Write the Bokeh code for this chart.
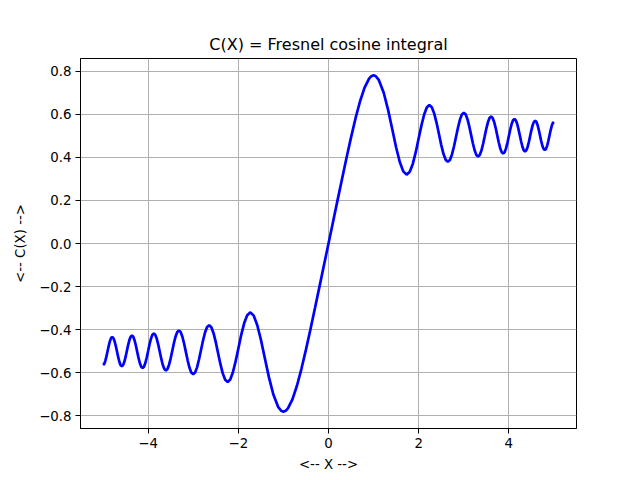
import numpy as np
from bokeh.plotting import figure
from bokeh.models import Range1d, FixedTicker, ColumnDataSource
from bokeh.embed import file_html
from bokeh.resources import INLINE

# Fresnel cosine integral C(x), sampled for x >= 0 (curve is odd: C(-x) = -C(x))
x_pos = [0.0, 0.1, 0.2, 0.3, 0.4, 0.5, 0.6, 0.7, 0.8, 0.9, 0.95, 1.0, 1.05,
         1.1180, 1.2247, 1.3229, 1.4142, 1.5, 1.5811, 1.6583, 1.7321, 1.8028, 1.8708, 1.9365, 2.0,
         2.0616, 2.1213, 2.1795, 2.2361, 2.2913, 2.3452, 2.3979, 2.4495, 2.5, 2.5495,
         2.5981, 2.6458, 2.6926, 2.7386, 2.7839, 2.8284, 2.8723, 2.9155, 2.9580, 3.0,
         3.0414, 3.0822, 3.1225, 3.1623, 3.2016, 3.2404, 3.2787, 3.3166, 3.3541, 3.3912,
         3.4278, 3.4641, 3.5, 3.5355, 3.5707, 3.6056, 3.6401, 3.6742, 3.7081, 3.7417,
         3.7749, 3.8079, 3.8406, 3.8730, 3.9051, 3.9370, 3.9686, 4.0,
         4.0311, 4.0620, 4.0927, 4.1231, 4.1533, 4.1833, 4.2131, 4.2426, 4.2720, 4.3012,
         4.3301, 4.3589, 4.3875, 4.4159, 4.4441, 4.4721, 4.5, 4.5277, 4.5552, 4.5826,
         4.6098, 4.6368, 4.6637, 4.6904, 4.7170, 4.7434, 4.7697, 4.7958, 4.8218, 4.8477,
         4.8734, 4.8990, 4.9244, 4.9497, 4.9749, 5.0]
c_pos = [0.0, 0.1000, 0.1999, 0.2994, 0.3975, 0.4923, 0.5811, 0.6597, 0.7228, 0.7648, 0.7760, 0.7799, 0.7759,
         0.7574, 0.6993, 0.6187, 0.5297, 0.4453, 0.3778, 0.3344, 0.3194, 0.3326, 0.3701, 0.4246, 0.4883,
         0.5479, 0.5982, 0.6311, 0.6426, 0.6322, 0.6024, 0.5585, 0.5076, 0.4575, 0.4160,
         0.3885, 0.3788, 0.3877, 0.4132, 0.4509, 0.4948, 0.5382, 0.5745, 0.5985, 0.6057,
         0.5991, 0.5765, 0.5430, 0.5038, 0.4651, 0.4325, 0.4109, 0.4033, 0.4104, 0.4309,
         0.4614, 0.4970, 0.5326, 0.5621, 0.5819, 0.5889, 0.5823, 0.5635, 0.5353, 0.5024,
         0.4697, 0.4422, 0.4239, 0.4174, 0.4235, 0.4411, 0.4673, 0.4984,
         0.5286, 0.5543, 0.5714, 0.5775, 0.5718, 0.5553, 0.5306, 0.5017, 0.4729, 0.4487,
         0.4325, 0.4268, 0.4322, 0.4478, 0.4712, 0.4985, 0.5260, 0.5488, 0.5641, 0.5696,
         0.5644, 0.5495, 0.5273, 0.5013, 0.4753, 0.4534, 0.4388, 0.4336, 0.4386, 0.4528,
         0.4740, 0.4989, 0.5237, 0.5447, 0.5586, 0.5636]

x_ticks = [-4, -2, 0, 2, 4]
x_tick_labels = ["\u22124", "\u22122", "0", "2", "4"]
y_ticks = [-0.8, -0.6, -0.4, -0.2, 0.0, 0.2, 0.4, 0.6, 0.8]
y_tick_labels = ["\u22120.8", "\u22120.6", "\u22120.4", "\u22120.2", "0.0", "0.2", "0.4", "0.6", "0.8"]

title_text = "C(X) = Fresnel cosine integral"
x_label = "<-- X -->"
y_label = "<-- C(X) -->"

xp = np.array(x_pos)
cp = np.array(c_pos)
xs = np.concatenate([-xp[::-1], xp[1:]])
ys = np.concatenate([-cp[::-1], cp[1:]])
src = ColumnDataSource(dict(x=xs, y=ys))

FONT = "DejaVu Sans"

p = figure(width=640, height=480, output_backend="svg", toolbar_location=None,
           x_range=Range1d(-5.5, 5.5), y_range=Range1d(-0.858, 0.858),
           min_border_left=80, min_border_right=64, min_border_top=58, min_border_bottom=52,
           title=title_text)
p.background_fill_color = "white"
p.border_fill_color = "white"
p.outline_line_color = "black"
p.outline_line_alpha = 1.0
p.outline_line_width = 1

p.title.align = "center"
p.title.text_font = FONT
p.title.text_font_size = "16px"
p.title.text_font_style = "normal"
p.title.text_color = "black"

p.line("x", "y", source=src, line_color="#0000ff", line_width=2.7)

for ax in (p.xaxis[0], p.yaxis[0]):
    ax.axis_line_color = "black"
    ax.major_tick_line_color = "black"
    ax.major_tick_out = 5
    ax.major_tick_in = 0
    ax.minor_tick_line_color = None
    ax.major_label_text_font = FONT
    ax.major_label_text_font_size = "13.33px"
    ax.major_label_text_color = "black"
    ax.axis_label_text_font = FONT
    ax.axis_label_text_font_size = "13.33px"
    ax.axis_label_text_font_style = "normal"
    ax.axis_label_text_color = "black"
    ax.major_label_standoff = 4

p.xaxis[0].ticker = FixedTicker(ticks=x_ticks)
p.xaxis[0].major_label_overrides = {t: l for t, l in zip(x_ticks, x_tick_labels)}
p.yaxis[0].ticker = FixedTicker(ticks=y_ticks)
p.yaxis[0].major_label_overrides = {t: l for t, l in zip(y_ticks, y_tick_labels)}
p.xaxis[0].axis_label = x_label
p.yaxis[0].axis_label = y_label
p.xaxis[0].axis_label_standoff = 6
p.yaxis[0].axis_label_standoff = 8

for g in (p.xgrid[0], p.ygrid[0]):
    g.grid_line_color = "#b0b0b0"
    g.grid_line_width = 1
    g.grid_line_alpha = 1.0
p.xgrid[0].ticker = FixedTicker(ticks=x_ticks)
p.ygrid[0].ticker = FixedTicker(ticks=y_ticks)

open("out.html", "w").write(file_html(p, INLINE))
